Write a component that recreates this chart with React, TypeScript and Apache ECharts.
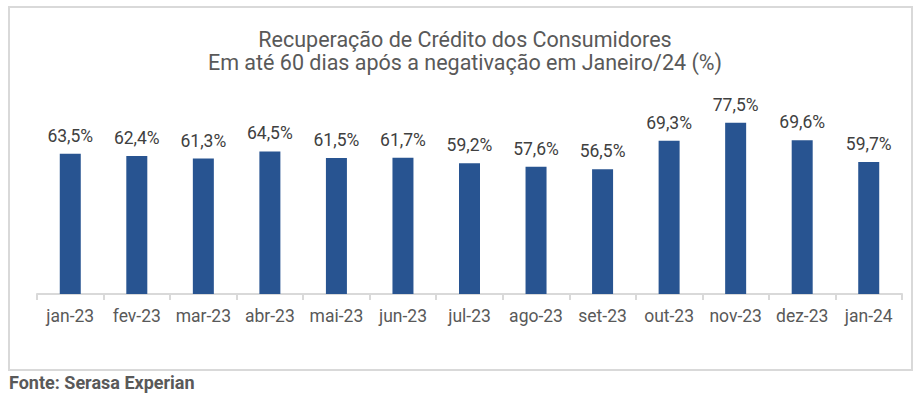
import React, { useEffect, useRef } from "react";
import * as echarts from "echarts";

const categories = ["jan-23", "fev-23", "mar-23", "abr-23", "mai-23", "jun-23", "jul-23", "ago-23", "set-23", "out-23", "nov-23", "dez-23", "jan-24"];
const values = [63.5, 62.4, 61.3, 64.5, 61.5, 61.7, 59.2, 57.6, 56.5, 69.3, 77.5, 69.6, 59.7];
const titleLines = ["Recuperação de Crédito dos Consumidores", "Em até 60 dias após a negativação em Janeiro/24 (%)"];
const sourceText = "Fonte: Serasa Experian";

export default function App() {
  const ref = useRef<HTMLDivElement>(null);
  useEffect(() => {
    if (!ref.current) return;
    const chart = echarts.init(ref.current, null, { renderer: "svg" });
    chart.setOption({
      animation: false,
      backgroundColor: "#ffffff",
      textStyle: { fontFamily: "Roboto" },
      title: {
        text: titleLines.join("\n"),
        left: 460,
        textAlign: "center",
        top: 23,
        textStyle: { fontFamily: "Roboto", fontSize: 21.5, fontWeight: "normal", color: "#595959", lineHeight: 23 },
      },
      grid: { left: 37, right: 17, top: 73, bottom: 99, containLabel: false },
      xAxis: {
        type: "category",
        data: categories,
        axisLine: { lineStyle: { color: "#d9d9d9", width: 2 } },
        axisTick: { show: true, interval: 0, length: 6, lineStyle: { color: "#d9d9d9", width: 2 } },
        axisLabel: { color: "#595959", fontSize: 17.5, margin: 13, interval: 0, fontFamily: "Roboto" },
      },
      yAxis: {
        type: "value",
        min: 0,
        max: 100,
        show: false,
        splitLine: { show: false },
      },
      series: [
        {
          type: "bar",
          data: values,
          barWidth: 21,
          itemStyle: { color: "#285491" },
          label: {
            show: true,
            position: "top",
            distance: 9,
            color: "#404040",
            fontSize: 17.5,
            fontFamily: "Roboto",
            formatter: (p: any) => p.value.toFixed(1).replace(".", ",") + "%",
          },
        },
      ],
      graphic: [
        {
          type: "rect",
          shape: { x: 9, y: 7, width: 903, height: 363 },
          style: { fill: "none", stroke: "#d9d9d9", lineWidth: 2 },
          silent: true,
        },
        {
          type: "text",
          left: 9,
          top: 373,
          style: { text: sourceText, fontFamily: "Roboto", fontSize: 18, fontWeight: "bold", fill: "#595959" },
        },
      ],
    });
    return () => chart.dispose();
  }, []);
  return <div ref={ref} style={{ position: "fixed", left: 0, top: 0, width: 919, height: 393 }} />;
}
